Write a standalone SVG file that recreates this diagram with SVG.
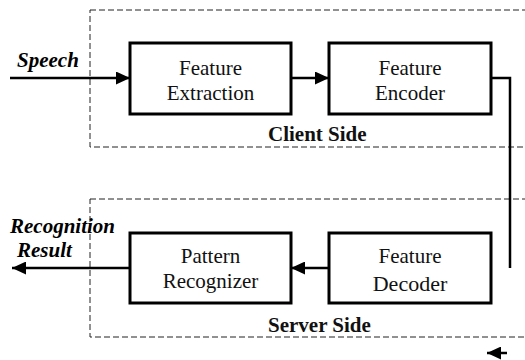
<svg xmlns="http://www.w3.org/2000/svg" width="525" height="360" viewBox="0 0 525 360">
  <style>
    .zone { fill: none; stroke: #222; stroke-width: 1; stroke-dasharray: 6 3; }
    .block { fill: #fff; stroke: #000; stroke-width: 3; }
    .wire { fill: none; stroke: #000; stroke-width: 2.5; }
    .lbl { font-size: 21px; fill: #111; text-anchor: middle; }
    .io { font-size: 21px; font-weight: bold; font-style: italic; fill: #000; }
    .zlbl { font-size: 21px; font-weight: bold; fill: #111; }
  </style>
  <defs>
    <marker id="head" viewBox="0 0 14 13" refX="14" refY="6.5" markerWidth="14" markerHeight="13" markerUnits="userSpaceOnUse" orient="auto">
      <path d="M0,0 L14,6.5 L0,13 Z" fill="#000"/>
    </marker>
  </defs>

  <g font-family="Liberation Serif, DejaVu Serif, serif">
  <!-- dashed zones -->
  <g id="client-zone">
    <rect class="zone" x="90" y="10" width="445" height="137"/>
    <text class="zlbl" x="268" y="141">Client Side</text>
  </g>
  <g id="server-zone">
    <rect class="zone" x="90" y="199" width="445" height="138"/>
    <text class="zlbl" x="268" y="332">Server Side</text>
  </g>

  <!-- connectors -->
  <g id="connectors">
    <line class="wire" x1="10" y1="78" x2="130" y2="78" marker-end="url(#head)"/>
    <line class="wire" x1="291" y1="78" x2="329" y2="78" marker-end="url(#head)"/>
    <polyline class="wire" points="491,78 510,78 510,268"/>
    <line class="wire" x1="329" y1="268" x2="291" y2="268" marker-end="url(#head)"/>
    <line class="wire" x1="130" y1="268" x2="12" y2="268" marker-end="url(#head)"/>
    <line class="wire" x1="507" y1="353" x2="487" y2="353" marker-end="url(#head)"/>
  </g>

  <!-- external labels -->
  <g id="speech">
    <text class="io" x="17" y="67">Speech</text>
  </g>
  <g id="result">
    <text class="io" x="10" y="233">Recognition</text>
    <text class="io" x="17" y="257">Result</text>
  </g>

  <!-- blocks -->
  <g id="feature-extraction">
    <rect class="block" x="130" y="43" width="161" height="71"/>
    <text class="lbl" x="210.5" y="75">Feature</text>
    <text class="lbl" x="210.5" y="100">Extraction</text>
  </g>
  <g id="feature-encoder">
    <rect class="block" x="329" y="43" width="162" height="71"/>
    <text class="lbl" x="410" y="75">Feature</text>
    <text class="lbl" x="410" y="100">Encoder</text>
  </g>
  <g id="pattern-recognizer">
    <rect class="block" x="130" y="233" width="161" height="70"/>
    <text class="lbl" x="210.5" y="263">Pattern</text>
    <text class="lbl" x="210.5" y="288">Recognizer</text>
  </g>
  <g id="feature-decoder">
    <rect class="block" x="329" y="233" width="162" height="70"/>
    <text class="lbl" x="410" y="263">Feature</text>
    <text class="lbl" x="410" y="291" style="font-size:22px">Decoder</text>
  </g>
  </g>
</svg>
